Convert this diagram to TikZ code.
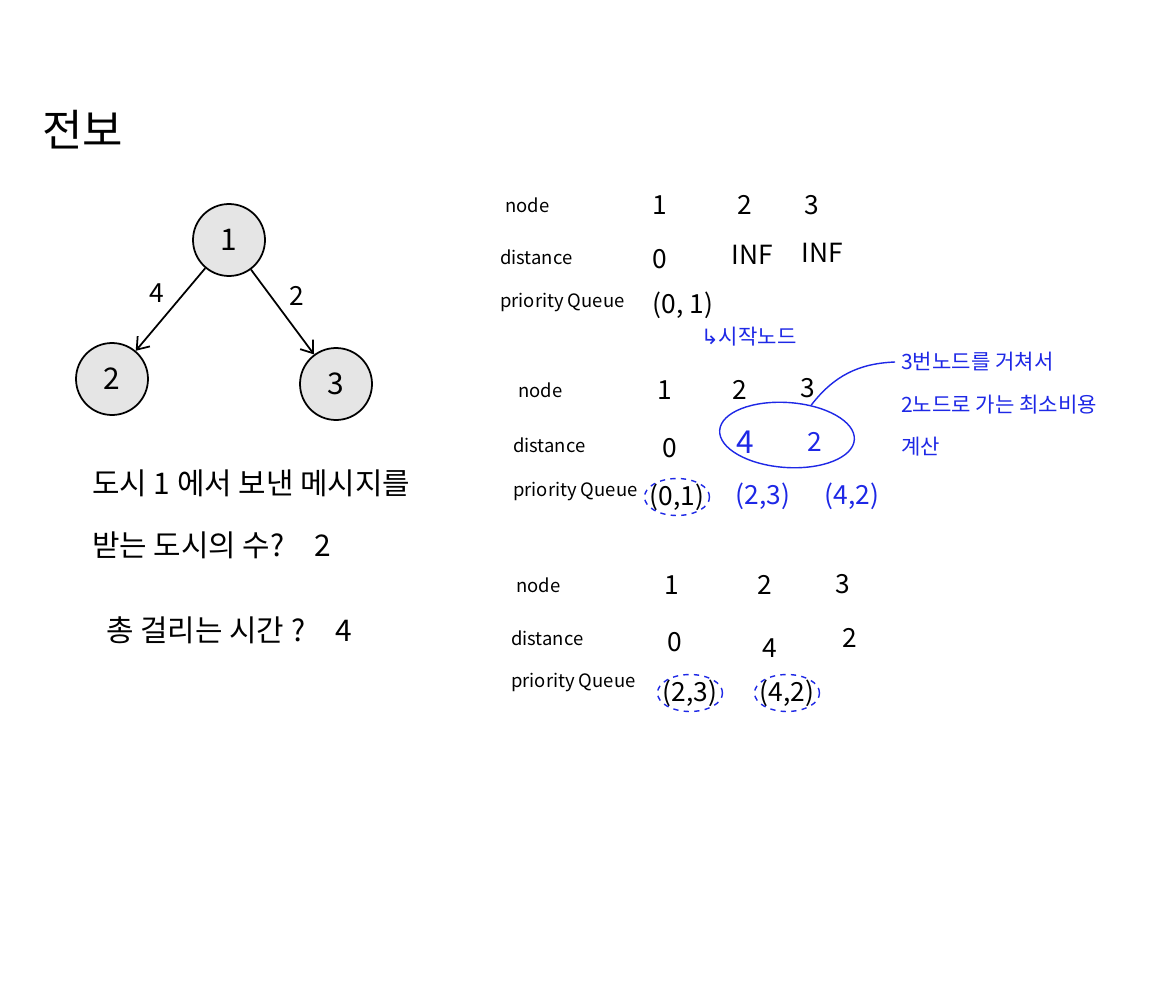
\documentclass[tikz,border=0pt]{standalone}
\usepackage{fontspec}
\usepackage{tikz}
\usetikzlibrary{shapes.geometric,arrows.meta}
\setmainfont{Noto Sans CJK KR}
\newfontfamily\symfont{DejaVu Sans}
\definecolor{handblue}{RGB}{30,40,230}
\definecolor{cityfill}{RGB}{229,229,229}
\tikzset{
  city/.style={shape=circle, draw=black, line width=1pt, fill=cityfill, minimum size=1.44cm, font=\fontsize{17}{20}\selectfont},
  rowlbl/.style={anchor=west, font=\fontsize{10.5}{12}\selectfont},
  cell/.style={font=\fontsize{15}{18}\selectfont},
  bluecell/.style={cell, text=handblue},
  hangul/.style={anchor=west, font=\fontsize{17}{20}\selectfont},
  note/.style={anchor=west, text=handblue, font=\fontsize{12}{14}\selectfont},
  pqmark/.style={draw=handblue, dashed, thick, shape=ellipse, minimum width=1.3cm, minimum height=0.74cm}
}
\begin{document}
\begin{tikzpicture}[x=0.02cm, y=-0.02cm]
    \useasboundingbox[fill=white] (0,0) rectangle (1155,1000);
    \node[anchor=west, font=\fontsize{25}{28}\selectfont] at (36,130) (title) {전보};
    % graph
    \node[city] at (229,240) (C1) {1};
    \node[city] at (112,379) (C2) {2};
    \node[city] at (336,384) (C3) {3};
    \path [-{Straight Barb[length=2.2mm, width=3.2mm]}, line width=1pt] (C1) edge node[above left, cell] {4} (C2);
    \path [-{Straight Barb[length=2.2mm, width=3.2mm]}, line width=1pt] (C1) edge node[above right, cell] {2} (C3);
    % questions
    \node[hangul] at (86,483) (Q1) {도시 1 에서 보낸 메시지를};
    \node[hangul] at (86,545) (Q2) {받는 도시의 수?\quad 2};
    \node[hangul] at (100,630) (Q3) {총 걸리는 시간 ?\quad 4};
    % step 1
    \node[rowlbl] at (499,205) (n1) {node};
    \node[rowlbl] at (494,257) (d1) {distance};
    \node[rowlbl] at (494,303) (p1) {priority Queue};
    \node[cell] at (660,205) (n1a) {1};
    \node[cell] at (745,205) (n1b) {2};
    \node[cell] at (812,205) (n1c) {3};
    \node[cell] at (660,259) (d1a) {0};
    \node[cell] at (752,255) (d1b) {INF};
    \node[cell] at (822,253) (d1c) {INF};
    \node[cell] at (683,305) (p1a) {(0, 1)};
    \node[note] at (695,337) (start) {{\symfont ↳}시작노드};
    % step 2
    \node[rowlbl] at (512,390) (n2) {node};
    \node[rowlbl] at (507,445) (d2) {distance};
    \node[rowlbl] at (507,492) (p2) {priority Queue};
    \node[cell] at (665,390) (n2a) {1};
    \node[cell] at (740,390) (n2b) {2};
    \node[cell] at (808,388) (n2c) {3};
    \node[cell] at (670,448) (d2a) {0};
    \node[bluecell, font=\fontsize{18}{20}\selectfont] at (745,442) (d2b) {4};
    \node[bluecell] at (815,442) (d2c) {2};
    \node[cell] at (677,497) (p2a) {(0,1)};
    \node[bluecell] at (763,496) (p2b) {(2,3)};
    \node[bluecell] at (852,496) (p2c) {(4,2)};
    \node[pqmark] at (p2a) (m2a) {};
    \node[draw=handblue, thick, shape=ellipse, minimum width=2.7cm, minimum height=1.3cm, rotate=-4] at (787,435) (ring) {};
    \node[note] at (895,362) (note1) {3번노드를 거쳐서};
    \node[note] at (895,405) (note2) {2노드로 가는 최소비용};
    \node[note] at (895,447) (note3) {계산};
    \draw[handblue, thick] (ring.55) to[bend left=25] (note1.west);
    % step 3
    \node[rowlbl] at (510,585) (n3) {node};
    \node[rowlbl] at (505,638) (d3) {distance};
    \node[rowlbl] at (505,683) (p3) {priority Queue};
    \node[cell] at (672,585) (n3a) {1};
    \node[cell] at (765,585) (n3b) {2};
    \node[cell] at (843,584) (n3c) {3};
    \node[cell] at (675,642) (d3a) {0};
    \node[cell] at (770,648) (d3b) {4};
    \node[cell] at (850,638) (d3c) {2};
    \node[cell] at (690,693) (p3a) {(2,3)};
    \node[cell] at (787,693) (p3b) {(4,2)};
    \node[pqmark] at (p3a) (m3a) {};
    \node[pqmark] at (p3b) (m3b) {};
\end{tikzpicture}
\end{document}
